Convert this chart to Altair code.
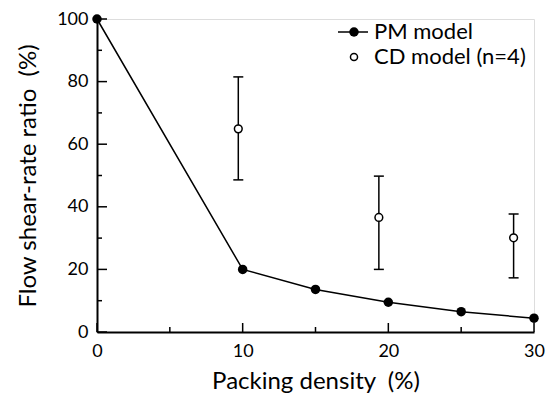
import altair as alt
import pandas as pd

# PM model (line with filled markers)
pm_x = [0, 10, 15, 20, 25, 30]
pm_y = [100, 20, 13.6, 9.5, 6.5, 4.4]

# CD model (open markers with error bars)
cd_x = [9.7, 19.35, 28.6]
cd_y = [64.9, 36.6, 30.1]
cd_lo = [48.6, 20.0, 17.3]
cd_hi = [81.5, 49.8, 37.7]

y_major = [0, 20, 40, 60, 80, 100]
y_minor = [10, 30, 50, 70, 90]
x_major = [0, 10, 20, 30]
x_minor = [5, 15, 25]

legend_labels = ["PM model", "CD model (n=4)"]
x_title = "Packing density\u00a0\u00a0(%)"
y_title = "Flow shear-rate ratio\u00a0\u00a0(%)"

FONT = "Lato"
W, H = 437, 313

pm = pd.DataFrame({"x": pm_x, "y": pm_y})
cd = pd.DataFrame({"x": cd_x, "y": cd_y, "lo": cd_lo, "hi": cd_hi})

xs = alt.Scale(domain=[0, 30], nice=False, zero=False)
ys = alt.Scale(domain=[0, 100], nice=False)

x_axis = alt.Axis(values=x_major, ticks=False, grid=False, domainWidth=2,
                  domainColor="black", labelFontSize=18, labelFont=FONT,
                  labelColor="black", labelPadding=10, title=x_title,
                  titleFont=FONT, titleFontSize=24, titleFontWeight="normal",
                  titleColor="black", titlePadding=9, labelFlush=False)
y_axis = alt.Axis(values=y_major, ticks=False, grid=False, domainWidth=2,
                  domainColor="black", labelFontSize=18, labelFont=FONT,
                  labelColor="black", labelPadding=9, title=y_title,
                  titleFont=FONT, titleFontSize=24, titleFontWeight="normal",
                  titleColor="black", titlePadding=16, labelFlush=False)

base_axes = alt.Chart(pm).mark_point(opacity=0).encode(
    x=alt.X("x:Q", scale=xs, axis=x_axis),
    y=alt.Y("y:Q", scale=ys, axis=y_axis),
)

line = alt.Chart(pm).mark_line(color="black", strokeWidth=1.5).encode(
    x=alt.X("x:Q", scale=xs), y=alt.Y("y:Q", scale=ys))
pm_pts = alt.Chart(pm).mark_point(filled=True, color="black", size=90, opacity=1).encode(
    x=alt.X("x:Q", scale=xs), y=alt.Y("y:Q", scale=ys))

err = alt.Chart(cd).mark_rule(color="black", strokeWidth=1.5).encode(
    x=alt.X("x:Q", scale=xs), y=alt.Y("lo:Q", scale=ys), y2="hi:Q")
cap_lo = alt.Chart(cd).mark_rule(color="black", strokeWidth=1.5, xOffset=-5, x2Offset=5).encode(
    x=alt.X("x:Q", scale=xs), x2="x:Q", y=alt.Y("lo:Q", scale=ys))
cap_hi = alt.Chart(cd).mark_rule(color="black", strokeWidth=1.5, xOffset=-5, x2Offset=5).encode(
    x=alt.X("x:Q", scale=xs), x2="x:Q", y=alt.Y("hi:Q", scale=ys))
cd_pts = alt.Chart(cd).mark_point(filled=True, fill="white", stroke="black", strokeWidth=1.5,
                                  size=60, opacity=1).encode(
    x=alt.X("x:Q", scale=xs), y=alt.Y("y:Q", scale=ys))

# inward ticks
ymaj = alt.Chart(pd.DataFrame({"v": y_major})).mark_rule(color="black", strokeWidth=1.5).encode(
    y=alt.Y("v:Q", scale=ys), x=alt.value(0), x2=alt.value(10))
ymin = alt.Chart(pd.DataFrame({"v": y_minor})).mark_rule(color="black", strokeWidth=1.5).encode(
    y=alt.Y("v:Q", scale=ys), x=alt.value(0), x2=alt.value(5))
xmaj = alt.Chart(pd.DataFrame({"v": x_major})).mark_rule(color="black", strokeWidth=1.5).encode(
    x=alt.X("v:Q", scale=xs), y=alt.value(H), y2=alt.value(H - 9))
xmin = alt.Chart(pd.DataFrame({"v": x_minor})).mark_rule(color="black", strokeWidth=1.5).encode(
    x=alt.X("v:Q", scale=xs), y=alt.value(H), y2=alt.value(H - 5))

# legend
leg_line = alt.Chart(pd.DataFrame({"l": [legend_labels[0]]})).mark_rule(
    color="black", strokeWidth=1.5).encode(x=alt.value(241), x2=alt.value(271), y=alt.value(13))
leg_pm = alt.Chart(pd.DataFrame({"l": [legend_labels[0]]})).mark_point(
    filled=True, color="black", size=90, opacity=1).encode(x=alt.value(257), y=alt.value(13))
leg_cd = alt.Chart(pd.DataFrame({"l": [legend_labels[1]]})).mark_point(
    filled=True, fill="white", stroke="black", strokeWidth=1.5, size=50, opacity=1).encode(
    x=alt.value(257), y=alt.value(38))
leg_txt1 = alt.Chart(pd.DataFrame({"l": [legend_labels[0]]})).mark_text(
    align="left", baseline="middle", font=FONT, fontSize=22, color="black").encode(
    x=alt.value(277), y=alt.value(13), text="l:N")
leg_txt2 = alt.Chart(pd.DataFrame({"l": [legend_labels[1]]})).mark_text(
    align="left", baseline="middle", font=FONT, fontSize=22, color="black").encode(
    x=alt.value(277), y=alt.value(38), text="l:N")

chart = alt.layer(
    base_axes, ymaj, ymin, xmaj, xmin, line, err, cap_lo, cap_hi, pm_pts, cd_pts,
    leg_line, leg_pm, leg_cd, leg_txt1, leg_txt2
).properties(
    width=W, height=H,
    autosize=alt.AutoSizeParams(type="none"),
    padding={"left": 97, "top": 19, "right": 16, "bottom": 64},
).configure_view(stroke=None).configure(background="white")

chart.save("out.html", embed_options={"renderer": "svg", "actions": False})
